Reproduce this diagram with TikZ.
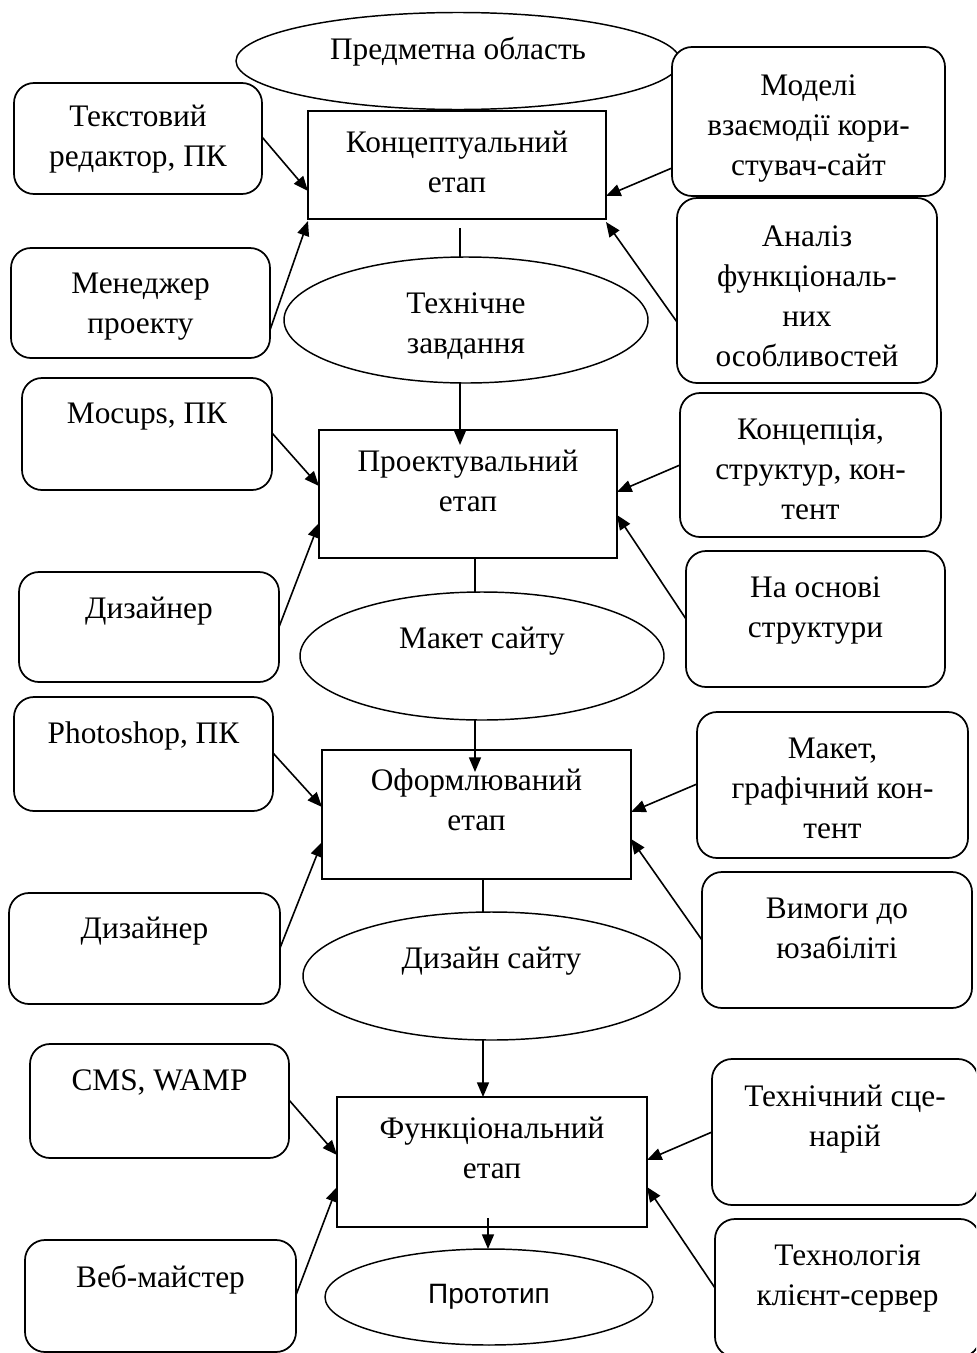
\documentclass[tikz,border=0pt]{standalone}
\usepackage{fontspec}
\setmainfont{Liberation Serif}
\newfontfamily\protofont{Liberation Sans}
\usetikzlibrary{shapes.geometric,arrows.meta,calc}

\begin{document}
\begin{tikzpicture}[x=0.75pt,y=-0.75pt,
  shapebase/.style={inner sep=0pt, outer sep=0pt, fill=white},
  stage/.style 2 args={shapebase, draw, line width=1.3pt, rectangle,
    minimum width=#1*0.75pt, minimum height=#2*0.75pt},
  res/.style 2 args={shapebase, draw, line width=1.3pt, rectangle, rounded corners=15pt,
    minimum width=#1*0.75pt, minimum height=#2*0.75pt},
  outcome/.style 2 args={shapebase, draw, line width=1.1pt, ellipse,
    minimum width=#1*0.75pt, minimum height=#2*0.75pt},
  txt/.style={inner sep=0pt, align=center, anchor=north, font=\fontsize{23.5}{30}\selectfont},
  link/.style={line width=1.2pt},
  feed/.style={line width=1.2pt, -{Triangle[length=11pt,width=9pt]}},
]
\useasboundingbox (0,0) rectangle (976,1353);
\clip (0,0) rectangle (976,1353);

% ---------- stage 1: concept ----------
\node[outcome={444}{97}] (E1) at (458,61) {};
\node[txt] (E1t) at (E1 |- 0,31) {\strut Предметна область};

\node[stage={298}{108}] (R1) at (457,165) {};
\node[txt] (R1t) at (R1 |- 0,124) {\strut Концептуальний\\етап};

\node[res={248}{111}] (L1a) at (138,138.5) {};
\node[txt] (L1at) at (L1a |- 0,98) {\strut Текстовий\\редактор, ПК};
\node[res={259}{110}] (L1b) at (140.5,303) {};
\node[txt] (L1bt) at (L1b |- 0,265) {\strut Менеджер\\проекту};

\node[res={273}{149}] (R1a) at (808.5,121.5) {};
\node[txt] (R1at) at (R1a |- 0,67) {\strut Моделі\\взаємодії кори-\\стувач-сайт};
\node[res={260}{185}] (R1b) at (807,290.5) {};
\node[txt] (R1bt) at (R1b |- 0,218) {\strut Аналіз\\функціональ-\\них\\особливостей};

\node[outcome={364}{126}] (E2) at (466,320) {};
\node[txt] (E2t) at (E2 |- 0,285) {\strut Технічне\\завдання};

% ---------- stage 2: design of structure ----------
\node[stage={298}{128}] (R2) at (468,494) {};
\node[txt] (R2t) at (R2 |- 0,443) {\strut Проектувальний\\етап};

\node[res={250}{112}] (L2a) at (147,434) {};
\node[txt] (L2at) at (L2a |- 0,395) {\strut Mocups, ПК};
\node[res={260}{110}] (L2b) at (149,627) {};
\node[txt] (L2bt) at (L2b |- 0,590) {\strut Дизайнер};

\node[res={261}{144}] (R2a) at (810.5,465) {};
\node[txt] (R2at) at (R2a |- 0,411) {\strut Концепція,\\структур, кон-\\тент};
\node[res={259}{136}] (R2b) at (815.5,619) {};
\node[txt] (R2bt) at (R2b |- 0,569) {\strut На основі\\структури};

\node[outcome={364}{128}] (E3) at (482,656) {};
\node[txt] (E3t) at (E3 |- 0,620) {\strut Макет сайту};

% ---------- stage 3: visual design ----------
\node[stage={309}{129}] (R3) at (476.5,814.5) {};
\node[txt] (R3t) at (R3 |- 0,762) {\strut Оформлюваний\\етап};

\node[res={259}{114}] (L3a) at (143.5,754) {};
\node[txt] (L3at) at (L3a |- 0,715) {\strut Photoshop, ПК};
\node[res={271}{111}] (L3b) at (144.5,948.5) {};
\node[txt] (L3bt) at (L3b |- 0,910) {\strut Дизайнер};

\node[res={271}{146}] (R3a) at (832.5,785) {};
\node[txt] (R3at) at (R3a |- 0,730) {\strut Макет,\\графічний кон-\\тент};
\node[res={270}{136}] (R3b) at (837,940) {};
\node[txt] (R3bt) at (R3b |- 0,890) {\strut Вимоги до\\юзабіліті};

\node[outcome={377}{128}] (E4) at (491.5,976) {};
\node[txt] (E4t) at (E4 |- 0,940) {\strut Дизайн сайту};

% ---------- stage 4: functional ----------
\node[stage={310}{130}] (R4) at (492,1162) {};
\node[txt] (R4t) at (R4 |- 0,1110) {\strut Функціональний\\етап};

\node[res={259}{114}] (L4a) at (159.5,1101) {};
\node[txt] (L4at) at (L4a |- 0,1062) {\strut CMS, WAMP};
\node[res={271}{112}] (L4b) at (160.5,1296) {};
\node[txt] (L4bt) at (L4b |- 0,1259) {\strut Веб-майстер};

\node[res={266}{146}] (R4a) at (845,1132) {};
\node[txt] (R4at) at (R4a |- 0,1078) {\strut Технічний сце-\\нарій};
\node[res={265}{138}] (R4b) at (847.5,1288) {};
\node[txt] (R4bt) at (R4b |- 0,1237) {\strut Технологія\\клієнт-сервер};

\node[outcome={328}{96}] (E5) at (489,1297) {};
\node[inner sep=0pt, anchor=base, font={\protofont\fontsize{21}{25}\selectfont}] (E5t)
  at (E5 |- 0,1303) {Прототип};

% ---------- vertical flow ----------
\draw[link] ($(R1.south)+(3,9)$) coordinate (v1) -- (v1 |- E2.north);
\draw[feed] (v1 |- E2.south) -- ($(v1 |- R2.north)+(0,15)$);
\draw[link] ($(R2.south)+(7,0)$) coordinate (v2) -- (v2 |- E3.north);
\draw[feed] (v2 |- E3.south) -- ($(v2 |- R3.north)+(0,22)$);
\draw[link] ($(R3.south)+(6.5,0)$) coordinate (v3) -- (v3 |- E4.north);
\draw[feed] (v3 |- E4.south) -- (v3 |- R4.north);
\draw[feed] ($(R4.south)+(-4,-9)$) coordinate (v4) -- (v4 |- E5.north);

% ---------- resources and inputs ----------
\draw[feed] (L1a.east |- 0,137) -- (R1.west |- 0,191);
\draw[feed] (L1b.east |- 0,330) -- (R1.west |- 0,221);
\draw[feed] (R1a.west |- 0,168) -- (R1.east |- 0,196);
\draw[feed] (R1b.west |- 0,322) -- (R1.east |- 0,222);

\draw[feed] (L2a.east |- 0,433) -- (R2.west |- 0,486);
\draw[feed] (L2b.east |- 0,627) -- (R2.west |- 0,523);
\draw[feed] (R2a.west |- 0,465) -- (R2.east |- 0,492);
\draw[feed] (R2b.west |- 0,619) -- (R2.east |- 0,515);

\draw[feed] (L3a.east |- 0,753) -- (R3.west |- 0,807);
\draw[feed] (L3b.east |- 0,948) -- (R3.west |- 0,842);
\draw[feed] (R3a.west |- 0,784) -- (R3.east |- 0,812);
\draw[feed] (R3b.west |- 0,940) -- (R3.east |- 0,839);

\draw[feed] (L4a.east |- 0,1100) -- (R4.west |- 0,1155);
\draw[feed] (L4b.east |- 0,1295) -- (R4.west |- 0,1187);
\draw[feed] (R4a.west |- 0,1132) -- (R4.east |- 0,1160);
\draw[feed] (R4b.west |- 0,1288) -- (R4.east |- 0,1187);
\end{tikzpicture}
\end{document}
